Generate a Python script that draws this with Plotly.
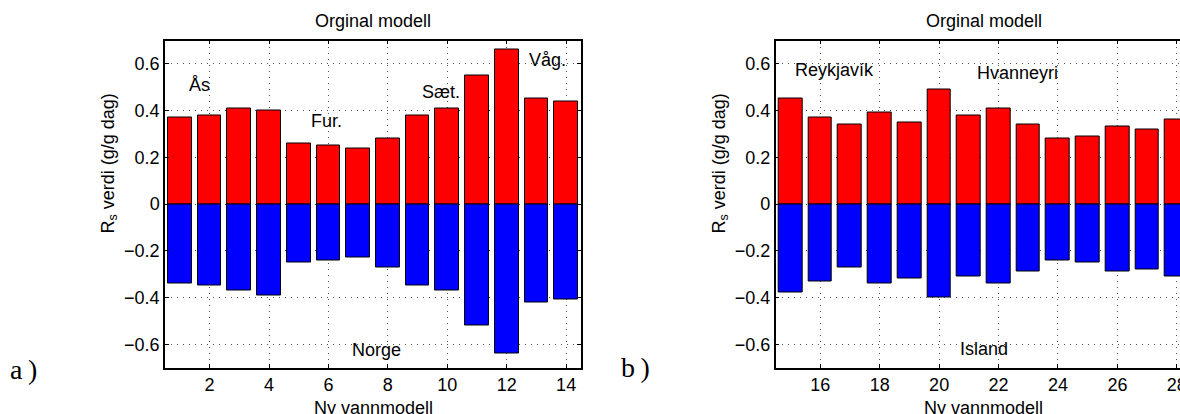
import plotly.graph_objects as go

# Model numbers and R_s values (g/g dag) for the two regions
norge_models = list(range(1, 15))
norge_pos = [0.37, 0.38, 0.41, 0.40, 0.26, 0.25, 0.24, 0.28, 0.38, 0.41, 0.55, 0.66, 0.45, 0.44]
norge_neg = [-0.34, -0.35, -0.37, -0.39, -0.25, -0.24, -0.23, -0.27, -0.35, -0.37, -0.52, -0.64, -0.42, -0.41]

island_models = list(range(15, 29))
island_pos = [0.45, 0.37, 0.34, 0.39, 0.35, 0.49, 0.38, 0.41, 0.34, 0.28, 0.29, 0.33, 0.32, 0.36]
island_neg = [-0.38, -0.33, -0.27, -0.34, -0.32, -0.40, -0.31, -0.34, -0.29, -0.24, -0.25, -0.29, -0.28, -0.31]

ytick_vals = [-0.6, -0.4, -0.2, 0.0, 0.2, 0.4, 0.6]
ytick_text = ["\u22120.6", "\u22120.4", "\u22120.2", "0", "0.2", "0.4", "0.6"]
xtick_left = [2, 4, 6, 8, 10, 12, 14]
xtick_right = [16, 18, 20, 22, 24, 26, 28]

# Station labels placed inside the axes: (text, x, y)
norge_labels = [("Ås", 1.23, 0.51), ("Fur.", 5.33, 0.355), ("Sæt.", 9.07, 0.479),
                ("Våg.", 12.69, 0.617), ("Norge", 6.71, -0.625)]
island_labels = [("Reykjavík", 15.09, 0.573), ("Hvanneyri", 21.22, 0.563), ("Island", 20.62, -0.62)]

W, H = 1180, 414
FONT = "Liberation Sans, Arial, Helvetica, sans-serif"
FS = 18
RED = "#ff0000"
BLUE = "#0000ff"

fig = go.Figure()

def add_bars(xs, pos, neg, xa, ya):
    for vals, col in ((pos, RED), (neg, BLUE)):
        fig.add_trace(go.Bar(
            x=xs, y=vals, width=0.8, xaxis=xa, yaxis=ya,
            marker=dict(color=col, line=dict(color="#000000", width=1)),
            showlegend=False, hoverinfo="x+y",
        ))

add_bars(norge_models, norge_pos, norge_neg, "x", "y")
add_bars(island_models, island_pos, island_neg, "x2", "y2")

# pixel geometry of the axes boxes
L1, R1 = 165.0, 581.0
L2 = 775.7
TOP, BOT = 40.5, 367.7
px_per_unit = (R1 - L1) / 14.0

grid_common = dict(
    showgrid=True, gridcolor="#555555", gridwidth=1, griddash="1px,5px",
    zeroline=False, showline=True, linecolor="#000000", linewidth=1.5,
    ticks="inside", ticklen=4, tickcolor="#000000", tickwidth=1,
    tickfont=dict(family=FONT, size=FS, color="#000000"),
    ticklabeloverflow="allow", automargin=False,
)

fig.update_layout(
    width=W, height=H,
    margin=dict(l=0, r=0, t=0, b=0, autoexpand=False),
    paper_bgcolor="white", plot_bgcolor="white",
    barmode="relative", bargap=0,
    font=dict(family=FONT, size=FS, color="#000000"),
    xaxis=dict(domain=[L1 / W, R1 / W], range=[0.5, 14.5], tickvals=xtick_left,
               mirror="ticks", anchor="y", **grid_common),
    yaxis=dict(domain=[1 - BOT / H, 1 - TOP / H], range=[-0.7, 0.7], tickvals=ytick_vals,
               ticktext=ytick_text, mirror="ticks", anchor="x", **grid_common),
    xaxis2=dict(domain=[L2 / W, 1.0], range=[14.5, 14.5 + (W - L2) / px_per_unit],
                tickvals=xtick_right, mirror="ticks", anchor="y2", **grid_common),
    yaxis2=dict(domain=[1 - BOT / H, 1 - TOP / H], range=[-0.7, 0.7], tickvals=ytick_vals,
                ticktext=ytick_text, mirror=False, anchor="x2", **grid_common),
)

ann = []
for text, x, y in norge_labels:
    ann.append(dict(text=text, x=x, y=y, xref="x", yref="y", xanchor="left", yanchor="middle",
                    showarrow=False, font=dict(family=FONT, size=FS)))
for text, x, y in island_labels:
    ann.append(dict(text=text, x=x, y=y, xref="x2", yref="y2", xanchor="left", yanchor="middle",
                    showarrow=False, font=dict(family=FONT, size=FS)))

full_right_center = L2 + 14 * px_per_unit / 2.0
for cx in ((L1 + R1) / 2.0, full_right_center):
    # axes title
    ann.append(dict(text="Orginal modell", x=cx / W, y=1 - 21 / H, xref="paper", yref="paper",
                    xanchor="center", yanchor="middle", showarrow=False,
                    font=dict(family=FONT, size=FS)))
    # x label
    ann.append(dict(text="Ny vannmodell", x=cx / W, y=1 - 408 / H, xref="paper", yref="paper",
                    xanchor="center", yanchor="middle", showarrow=False,
                    font=dict(family=FONT, size=FS)))

for lx in (109, 720):
    ann.append(dict(text="R<sub>s</sub> verdi (g/g dag)", x=lx / W, y=1 - 163.5 / H,
                    xref="paper", yref="paper", xanchor="center", yanchor="middle",
                    textangle=-90, showarrow=False, font=dict(family=FONT, size=FS)))

# panel letters
for text, lx, cy in (("a\u2009)", 8, 369), ("b\u2009)", 619, 367)):
    ann.append(dict(text=text, x=lx / W, y=1 - cy / H, xref="paper", yref="paper",
                    xanchor="left", yanchor="middle", showarrow=False,
                    font=dict(family="Liberation Serif, DejaVu Serif, serif", size=28)))

fig.update_layout(annotations=ann)
fig.write_html("out.html")
